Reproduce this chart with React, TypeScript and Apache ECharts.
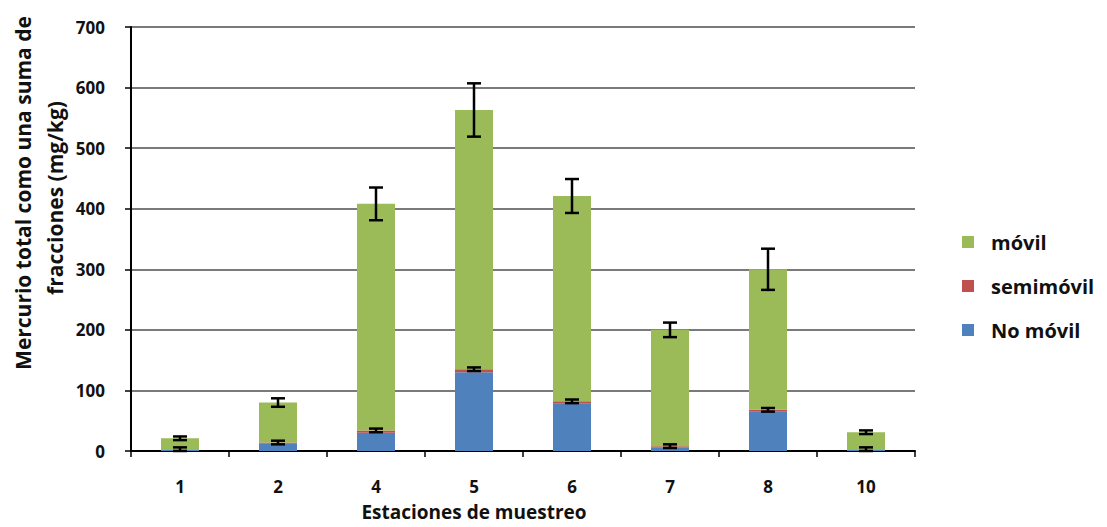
import React, { useEffect, useRef } from "react";
import * as echarts from "echarts";

// Sampling stations and mercury fractions (mg/kg)
const stations = ["1", "2", "4", "5", "6", "7", "8", "10"];
const noMovil = [2, 12, 30, 130, 78, 6, 65, 2];
const semimovil = [1, 2, 4, 5, 4, 2, 3, 1];
const movil = [18, 66, 374, 428, 339, 192, 232, 28];
// Standard deviation of the total and of the non-mobile + semi-mobile part
const totalError = [3, 7, 27, 44, 28, 12, 34, 3];
const innerError = [3, 3, 3, 3, 3, 3, 3, 3];

const yTicks = { min: 0, max: 700, interval: 100 };

const FONT = "'Open Sans', 'Noto Sans', sans-serif";

export default function App() {
  const ref = useRef<HTMLDivElement>(null);

  useEffect(() => {
    document.body.style.margin = "0";
    const chart = echarts.init(ref.current!, null, { renderer: "svg" });

    const totals = stations.map((_, i) => noMovil[i] + semimovil[i] + movil[i]);
    const lower = stations.map((_, i) => noMovil[i] + semimovil[i]);
    const errData = [
      ...totals.map((t, i) => [i, t - totalError[i], t + totalError[i]]),
      ...lower.map((t, i) => [i, t - innerError[i], t + innerError[i]]),
    ];

    const titleStyle = {
      fontFamily: FONT,
      fontSize: 21,
      fontWeight: "bold",
      fill: "#111",
      textAlign: "center",
      textVerticalAlign: "middle",
    };

    chart.setOption({
      animation: false,
      backgroundColor: "#ffffff",
      grid: { left: 131, right: 192, top: 27, bottom: 76 },
      legend: {
        data: ["móvil", "semimóvil", "No móvil"],
        orient: "vertical",
        left: 957,
        top: 226,
        itemWidth: 12,
        itemHeight: 12,
        itemGap: 22,
        icon: "rect",
        textStyle: {
          fontFamily: FONT,
          fontSize: 20,
          fontWeight: "bold",
          lineHeight: 22,
          color: "#111",
          padding: [0, 0, 0, 12],
        },
      },
      xAxis: {
        type: "category",
        data: stations,
        axisLine: { lineStyle: { color: "#000", width: 2 } },
        axisTick: { show: true, length: 6, lineStyle: { color: "#000", width: 1.5 } },
        axisLabel: {
          fontFamily: FONT,
          fontSize: 17,
          fontWeight: "bold",
          color: "#111",
          margin: 27,
        },
      },
      yAxis: {
        type: "value",
        ...yTicks,
        axisLine: { show: true, lineStyle: { color: "#000", width: 2 } },
        axisTick: { show: true, length: 6, lineStyle: { color: "#000", width: 1.5 } },
        splitLine: { lineStyle: { color: "#7a7a7a", width: 2 } },
        axisLabel: {
          fontFamily: FONT,
          fontSize: 17,
          fontWeight: "bold",
          color: "#111",
          margin: 26,
        },
      },
      graphic: [
        {
          type: "text",
          x: 23,
          y: 193,
          rotation: Math.PI / 2,
          style: { ...titleStyle, text: "Mercurio total como una suma de" },
        },
        {
          type: "text",
          x: 55,
          y: 198,
          rotation: Math.PI / 2,
          style: { ...titleStyle, text: "fracciones (mg/kg)" },
        },
        {
          type: "text",
          x: 474,
          y: 512,
          style: { ...titleStyle, fontSize: 19, text: "Estaciones de muestreo" },
        },
      ],
      series: [
        {
          name: "No móvil",
          type: "bar",
          stack: "hg",
          barWidth: 38,
          data: noMovil,
          itemStyle: { color: "#4f81bd" },
        },
        {
          name: "semimóvil",
          type: "bar",
          stack: "hg",
          barWidth: 38,
          data: semimovil,
          itemStyle: { color: "#c0504d" },
        },
        {
          name: "móvil",
          type: "bar",
          stack: "hg",
          barWidth: 38,
          data: movil,
          itemStyle: { color: "#9bbb59" },
        },
        {
          name: "error",
          type: "custom",
          data: errData,
          z: 10,
          renderItem: (_params: any, api: any) => {
            const idx = api.value(0);
            const lo = api.coord([idx, api.value(1)]);
            const hi = api.coord([idx, api.value(2)]);
            const hw = 7;
            const style = { stroke: "#000", lineWidth: 2.5 };
            return {
              type: "group",
              children: [
                { type: "line", shape: { x1: hi[0], y1: hi[1], x2: lo[0], y2: lo[1] }, style },
                { type: "line", shape: { x1: hi[0] - hw, y1: hi[1], x2: hi[0] + hw, y2: hi[1] }, style },
                { type: "line", shape: { x1: lo[0] - hw, y1: lo[1], x2: lo[0] + hw, y2: lo[1] }, style },
              ],
            };
          },
        },
      ],
    });

    return () => chart.dispose();
  }, []);

  return <div ref={ref} style={{ width: 1107, height: 527 }} />;
}
